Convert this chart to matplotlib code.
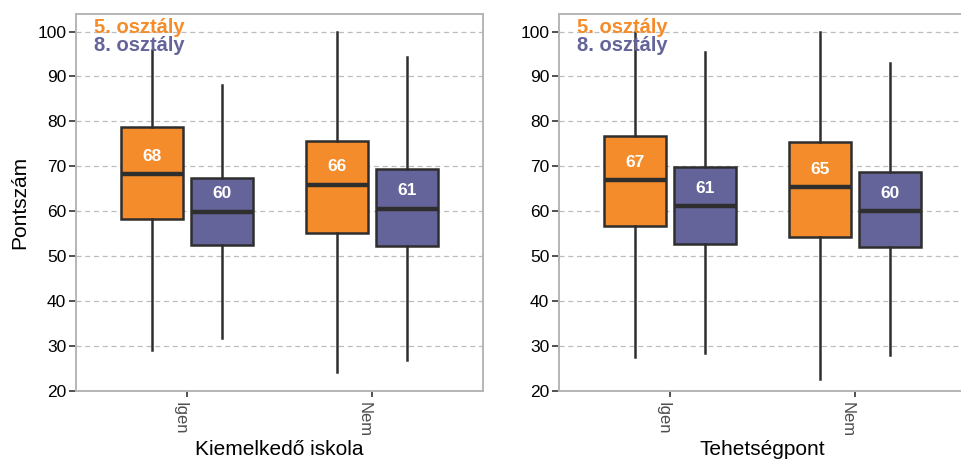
import matplotlib
matplotlib.use("Agg")
import matplotlib.pyplot as plt

plt.rcParams['font.family'] = ['Liberation Sans', 'DejaVu Sans']

categories = ["Igen", "Nem"]
panel_titles = ["Kiemelkedő iskola", "Tehetségpont"]
groups = ["5. osztály", "8. osztály"]

# Box statistics per panel, per category: (whisker low, Q1, median, Q3, whisker high)
kiemelkedo_5 = [(29.1, 58.3, 68.3, 78.7, 95.9), (24.2, 55.2, 65.9, 75.7, 100.0)]
kiemelkedo_8 = [(31.9, 52.6, 59.9, 67.3, 88.2), (27.0, 52.2, 60.6, 69.3, 94.3)]
tehetseg_5 = [(27.6, 56.8, 66.9, 76.7, 99.8), (22.7, 54.3, 65.4, 75.5, 100.0)]
tehetseg_8 = [(28.5, 52.8, 61.1, 69.8, 95.4), (28.0, 52.0, 60.0, 68.7, 92.9)]

panels = [(kiemelkedo_5, kiemelkedo_8), (tehetseg_5, tehetseg_8)]

colors = ["#F58C2B", "#64649B"]
edge = "#2E2E2E"
yticks = [20, 30, 40, 50, 60, 70, 80, 90, 100]

fig = plt.figure(figsize=(9.61, 4.61), dpi=100)
ax_w, ax_h, ax_b = 0.4235, 0.8178, 0.1518
lefts = [0.0791, 0.5817]

offset = 0.19
width = 0.335

for pi, (left, (s5, s8)) in enumerate(zip(lefts, panels)):
    ax = fig.add_axes([left, ax_b, ax_w, ax_h])
    for gi, (series, col) in enumerate(zip((s5, s8), colors)):
        stats = []
        positions = []
        for ci, (lo, q1, med, q3, hi) in enumerate(series):
            stats.append(dict(whislo=lo, q1=q1, med=med, q3=q3, whishi=hi, fliers=[]))
            positions.append(ci + 1 + (offset if gi else -offset))
        ax.bxp(stats, positions=positions, widths=width, patch_artist=True,
               showcaps=False, showfliers=False,
               boxprops=dict(facecolor=col, edgecolor=edge, linewidth=1.8),
               medianprops=dict(color=edge, linewidth=3.2, solid_capstyle='butt'),
               whiskerprops=dict(color=edge, linewidth=1.8),
               zorder=3)
        for pos, (lo, q1, med, q3, hi) in zip(positions, series):
            ax.text(pos, med + 4.0, f"{round(med)}", color="white",
                    fontsize=12.5, fontweight="bold", ha="center", va="center",
                    zorder=5)

    ax.set_xlim(0.4, 2.6)
    ax.set_ylim(20, 103.9)
    ax.set_yticks(yticks)
    ax.set_yticklabels([str(v) for v in yticks], fontsize=12.5, color="black")
    ax.set_xticks([1, 2])
    ax.set_xticklabels(categories, rotation=-90, ha="right", va="top",
                       fontsize=12, color="#4D4D4D")
    ax.tick_params(axis="y", length=5, width=1.2, color="#333333", pad=2)
    ax.tick_params(axis="x", length=4, width=1.2, color="#333333", pad=4)
    for sp in ax.spines.values():
        sp.set_color("#B5B5B5")
        sp.set_linewidth(1.4)
    ax.yaxis.grid(True, linestyle=(0, (4, 3)), color="#BDBDBD", linewidth=0.9)
    ax.set_axisbelow(True)
    ax.set_xlabel(panel_titles[pi], fontsize=15, labelpad=2)
    if pi == 0:
        ax.set_ylabel("Pontszám", fontsize=15, labelpad=6)

    ax.text(0.043, 100.9, groups[0], transform=ax.get_yaxis_transform(),
            color=colors[0], fontsize=14.5, fontweight="bold", ha="left",
            va="center", zorder=6)
    ax.text(0.043, 97.0, groups[1], transform=ax.get_yaxis_transform(),
            color=colors[1], fontsize=14.5, fontweight="bold", ha="left",
            va="center", zorder=6)

fig.savefig("out.png", dpi=100)
